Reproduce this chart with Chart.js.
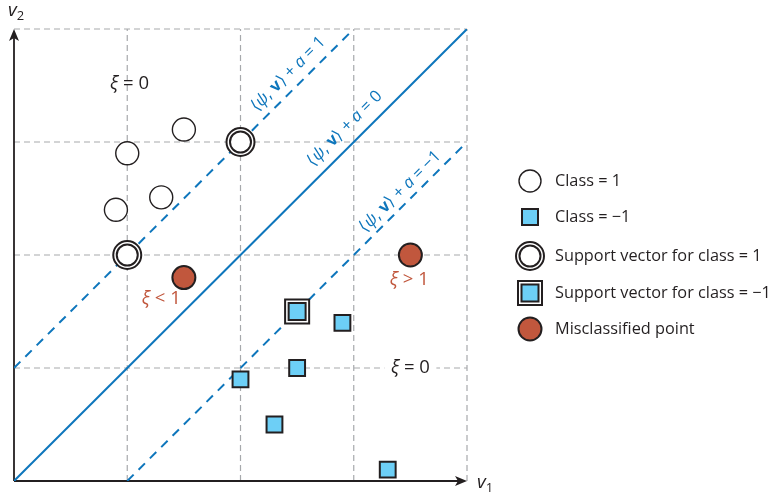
<!DOCTYPE html>
<html>
<head>
<meta charset="utf-8">
<script src="https://cdn.jsdelivr.net/npm/chart.js@4.4.0/dist/chart.umd.min.js"></script>
<style>
html, body { margin: 0; padding: 0; background: #fff; }
#wrap { width: 772px; height: 492px; }
</style>
</head>
<body>
<div id="wrap"><canvas id="svm" width="772" height="492"></canvas></div>
<script>
// data (v1, v2 in grid units)
const class1X = [0.9, 1.3, 1.0, 1.5];
const class1Y = [2.4, 2.51, 2.9, 3.11];
const classNegX = [2.9, 2.5, 2.0, 2.3, 3.3];
const classNegY = [1.4, 1.0, 0.9, 0.5, 0.1];
const svPosX = [2.0, 1.0];
const svPosY = [3.0, 2.0];
const svNegX = [2.5];
const svNegY = [1.5];
const misX = [1.5, 3.5];
const misY = [1.8, 2.0];
const gridTicks = [1, 2, 3, 4];
// decision boundary <psi,v> + a = 0 and the two margins (+1 / -1)
const lineX = [[0, 4], [0, 3], [1, 4]];
const lineY = [[0, 4], [1, 4], [0, 3]];
const lineLabels = ['0', '1', '\u22121'];
const legendLabels = ['Class = 1', 'Class = \u22121', 'Support vector for class = 1', 'Support vector for class = \u22121', 'Misclassified point'];

const FONT = '"Open Sans", sans-serif';
const BLUE = '#0e76bc', RED = '#c1573d', INK = '#231f20', GRID = '#a7a9ac', CYAN = '#6dcff6';

function pts(xs, ys) { return xs.map((v, i) => ({x: v, y: ys[i]})); }

function richText(ctx, parts, x, y, angle, color, size) {
    ctx.save();
    ctx.translate(x, y);
    ctx.rotate(angle);
    ctx.fillStyle = color;
    ctx.textBaseline = 'middle';
    ctx.textAlign = 'left';
    let w = 0;
    parts.forEach(p => { ctx.font = (p[1] || '') + ' ' + (p[2] || size) + 'px ' + FONT; w += ctx.measureText(p[0]).width; });
    let cx = -w / 2;
    parts.forEach(p => {
        ctx.font = (p[1] || '') + ' ' + (p[2] || size) + 'px ' + FONT;
        ctx.fillText(p[0], cx, p[3] || 0);
        cx += ctx.measureText(p[0]).width;
    });
    ctx.restore();
    return w;
}

function marker(ctx, kind, x, y) {
    ctx.save();
    ctx.strokeStyle = INK;
    const circ = (r, fill, lw) => { ctx.beginPath(); ctx.arc(x, y, r, 0, Math.PI * 2); ctx.fillStyle = fill; ctx.fill(); ctx.lineWidth = lw; ctx.stroke(); };
    const sq = (h, fill, lw) => { ctx.beginPath(); ctx.rect(x - h, y - h, 2 * h, 2 * h); ctx.fillStyle = fill; ctx.fill(); ctx.lineWidth = lw; ctx.stroke(); };
    if (kind === 0) circ(11, '#fff', 1.4);
    if (kind === 1) sq(8, CYAN, 2);
    if (kind === 2) { circ(14, '#fff', 2); circ(10.5, '#fff', 2); }
    if (kind === 3) { sq(12, '#fff', 2); sq(8.5, CYAN, 2); }
    if (kind === 4) circ(11.5, RED, 2);
    ctx.restore();
}

const svmDecor = {
    id: 'svmDecor',
    beforeDatasetsDraw(chart) {
        const {ctx, scales: {x, y}} = chart;
        ctx.save();
        // dashed grid
        ctx.strokeStyle = GRID;
        ctx.lineWidth = 1.2;
        ctx.setLineDash([6, 4]);
        gridTicks.forEach(t => {
            ctx.beginPath();
            ctx.moveTo(x.getPixelForValue(t), y.getPixelForValue(0));
            ctx.lineTo(x.getPixelForValue(t), y.getPixelForValue(4));
            ctx.stroke();
            ctx.beginPath();
            ctx.moveTo(x.getPixelForValue(0), y.getPixelForValue(t));
            ctx.lineTo(x.getPixelForValue(4), y.getPixelForValue(t));
            ctx.stroke();
        });
        ctx.setLineDash([]);
        // axes with arrows
        const x0 = x.getPixelForValue(0), y0 = y.getPixelForValue(0);
        const xe = x.getPixelForValue(4), ye = y.getPixelForValue(4);
        ctx.strokeStyle = INK;
        ctx.fillStyle = INK;
        ctx.lineWidth = 1.8;
        ctx.beginPath(); ctx.moveTo(x0, y0); ctx.lineTo(xe - 6, y0); ctx.stroke();
        ctx.beginPath(); ctx.moveTo(x0, y0); ctx.lineTo(x0, ye + 6); ctx.stroke();
        ctx.beginPath(); ctx.moveTo(xe, y0); ctx.lineTo(xe - 12, y0 - 5); ctx.lineTo(xe - 9, y0); ctx.lineTo(xe - 12, y0 + 5); ctx.closePath(); ctx.fill();
        ctx.beginPath(); ctx.moveTo(x0, ye); ctx.lineTo(x0 - 5, ye + 12); ctx.lineTo(x0, ye + 9); ctx.lineTo(x0 + 5, ye + 12); ctx.closePath(); ctx.fill();
        // axis titles
        richText(ctx, [['v', 'italic', 19], ['1', '', 13, 5]], xe + 18, y0 + 2, 0, INK, 19);
        richText(ctx, [['v', 'italic', 19], ['2', '', 13, 5]], x0 + 2, ye - 18, 0, INK, 19);
        // xi labels
        richText(ctx, [['\u03be', 'italic'], [' = 0']], x.getPixelForValue(1.02), y.getPixelForValue(3.52), 0, INK, 18.5);
        const lx = x.getPixelForValue(3.5), ly = y.getPixelForValue(1.0);
        ctx.fillStyle = '#fff';
        ctx.fillRect(lx - 26, ly - 9, 52, 18);
        richText(ctx, [['\u03be', 'italic'], [' = 0']], lx, ly, 0, INK, 18.5);
        richText(ctx, [['\u03be', 'italic'], [' < 1']], x.getPixelForValue(1.3), y.getPixelForValue(1.61), 0, RED, 18.5);
        richText(ctx, [['\u03be', 'italic'], [' > 1']], x.getPixelForValue(3.49), y.getPixelForValue(1.78), 0, RED, 18.5);
        ctx.restore();
    },
    afterDatasetsDraw(chart) {
        const {ctx, scales: {x, y}} = chart;
        // rotated boundary labels
        const centers = [[2.92, 3.12], [2.42, 3.6], [3.41, 2.56]];
        lineLabels.forEach((lab, i) => {
            richText(ctx, [['\u27e8'], ['\u03c8', 'italic'], [', '], ['v', 'bold'], ['\u27e9 + '], ['a', 'italic'], [' = ' + lab]],
                x.getPixelForValue(centers[i][0]), y.getPixelForValue(centers[i][1]), -Math.PI / 4, BLUE, 16.5);
        });
        // legend
        const rows = [181, 217, 256, 293, 329];
        legendLabels.forEach((lab, i) => {
            marker(ctx, i, 530, rows[i]);
            ctx.save();
            ctx.font = '16.3px ' + FONT;
            ctx.fillStyle = INK;
            ctx.textBaseline = 'middle';
            ctx.fillText(lab, 555, rows[i]);
            ctx.restore();
        });
    }
};

const pointSet = (data, style, radius, bg, bw) => ({
    type: 'scatter', data, pointStyle: style, pointRadius: radius, pointBackgroundColor: bg,
    pointBorderColor: INK, pointBorderWidth: bw, showLine: false, clip: false
});

const datasets = [
    pointSet(pts(svPosX, svPosY), 'circle', 10.5, '#fff', 2),
    pointSet(pts(svPosX, svPosY), 'circle', 14, '#fff', 2),
    pointSet(pts(svNegX, svNegY), 'rect', 12, CYAN, 2),
    pointSet(pts(svNegX, svNegY), 'rect', 17, '#fff', 2),
    pointSet(pts(class1X, class1Y), 'circle', 11.5, '#fff', 1.4),
    pointSet(pts(classNegX, classNegY), 'rect', 11.2, CYAN, 2),
    pointSet(pts(misX, misY), 'circle', 11.5, RED, 2)
];
lineX.forEach((xs, i) => {
    datasets.push({
        type: 'scatter', data: pts(xs, lineY[i]), showLine: true, pointRadius: 0,
        borderColor: BLUE, borderWidth: 2, borderDash: i === 0 ? [] : [9, 7], fill: false
    });
});

new Chart(document.getElementById('svm'), {
    type: 'scatter',
    data: {datasets},
    options: {
        responsive: false,
        devicePixelRatio: 1,
        animation: false,
        events: [],
        layout: {autoPadding: false, padding: {left: 14, top: 29, right: 305, bottom: 11}},
        scales: {
            x: {type: 'linear', min: 0, max: 4, display: false},
            y: {type: 'linear', min: 0, max: 4, display: false}
        },
        plugins: {legend: {display: false}, tooltip: {enabled: false}}
    },
    plugins: [svmDecor]
});
</script>
</body>
</html>
